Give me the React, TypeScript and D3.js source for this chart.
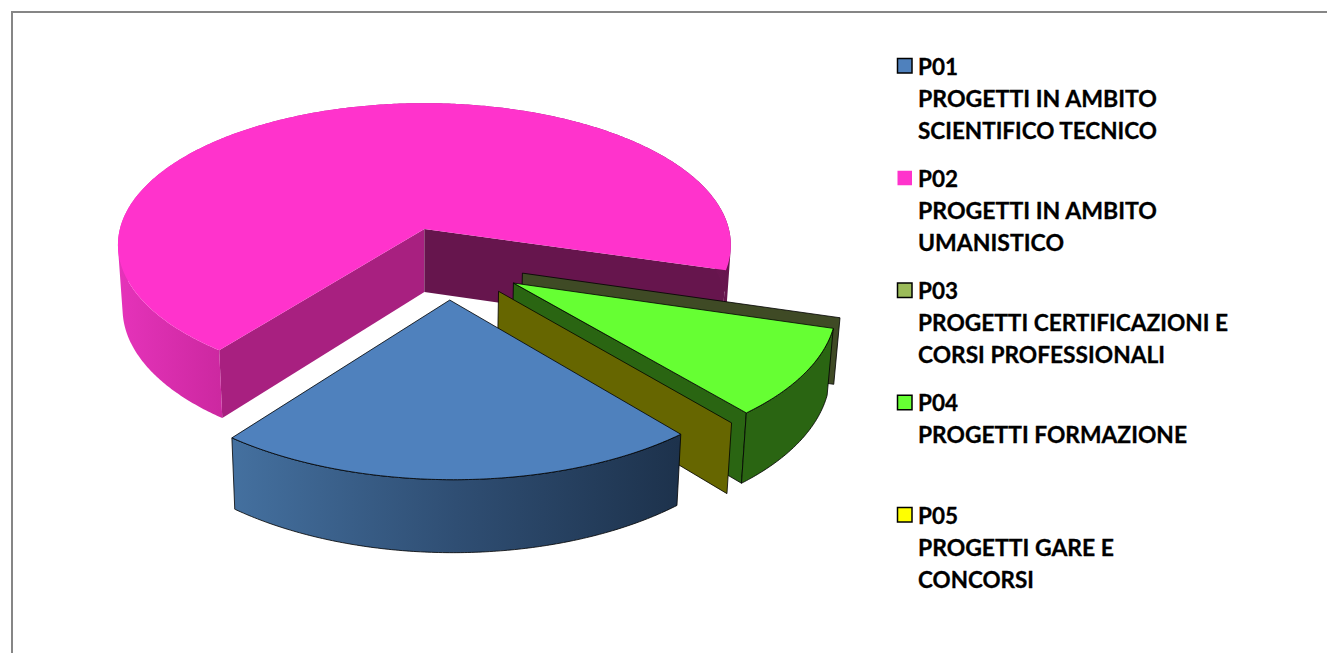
import React from "react";
import * as d3 from "d3";

// values are degrees of the pie, P03 and P05 are empty slices
const categories = ["P01", "P02", "P03", "P04", "P05"];
const values = [77.5, 248.8, 0, 33.8, 0];
const descriptions = [
  ["PROGETTI IN AMBITO", "SCIENTIFICO TECNICO"],
  ["PROGETTI IN AMBITO", "UMANISTICO"],
  ["PROGETTI CERTIFICAZIONI E", "CORSI PROFESSIONALI"],
  ["PROGETTI FORMAZIONE"],
  ["PROGETTI GARE E", "CONCORSI"],
];
const swatchColors = ["#4F81BD", "#FF33CC", "#9BBB59", "#66FF33", "#FFFF00"];
const topColors = ["#4F81BD", "#FF33CC", "none", "#66FF33", "none"];
const startFaceColors = [null, "#A82080", "#3F4A25", null, "#666600"];
const endFaceColors = [null, "#66154D", null, "#2A6512", null];
const sideColors = ["url(#blueSide)", "url(#pinkSide)", "none", "#2A6512", "none"];
const outlined = [true, false, true, true, true];
const drawOrder = [1, 2, 3, 4, 0];

const width = 1327;
const height = 653;

// perspective of the pie plane: x to the right, y towards the viewer, radius 1
const centerX = 424;
const centerY = 229;
const scaleX = 304.5;
const scaleY = 140;
const tilt = 0.1127;
const depth = 63;
const bottomShrink = 0.985;
const explodeCenter = [0.0763, 0.234];
const explode = 0.246;
const radii = [1.01, 1, 1.005, 1.005, 1.005];

const project = (px: number, py: number, z: number): [number, number] => {
  const w = 1 / (1 - tilt * py);
  return [
    centerX + scaleX * px * w * (z ? bottomShrink : 1),
    centerY + scaleY * py * w + depth * Math.pow(w, 0.8) * z,
  ];
};

const slices = d3
  .pie<number>()
  .sort(null)
  .startAngle((140.4 * Math.PI) / 180)
  .endAngle((140.4 * Math.PI) / 180 + 2 * Math.PI)(values);

const origin = (s: d3.PieArcDatum<number>): [number, number] => {
  const mid = (s.startAngle + s.endAngle) / 2;
  return [
    explodeCenter[0] + explode * Math.sin(mid),
    explodeCenter[1] - explode * Math.cos(mid),
  ];
};

const rimPoint = (s: d3.PieArcDatum<number>, angle: number, z: number) => {
  const [ox, oy] = origin(s);
  const r = radii[s.index];
  return project(ox + r * Math.sin(angle), oy - r * Math.cos(angle), z);
};

const rimAngles = (s: d3.PieArcDatum<number>) => [
  ...d3.range(s.startAngle, s.endAngle, 0.01),
  s.endAngle,
];

const line = d3.line();

const topPath = (s: d3.PieArcDatum<number>) => {
  const [ox, oy] = origin(s);
  return (
    line([project(ox, oy, 0), ...rimAngles(s).map((a) => rimPoint(s, a, 0))]) + "Z"
  );
};

// outline of the outer wall
const sidePath = (s: d3.PieArcDatum<number>) => {
  const angles = rimAngles(s);
  return (
    line([
      ...angles.map((a) => rimPoint(s, a, 0)),
      ...[...angles].reverse().map((a) => rimPoint(s, a, 1)),
    ]) + "Z"
  );
};

// the wall again as small quads, all wound the same way, so the silhouette
// between top and bottom rim is filled where the two curves cross
const sideFillPath = (s: d3.PieArcDatum<number>) => {
  const angles = rimAngles(s);
  return d3
    .pairs(angles)
    .map(([a, b]) => {
      const quad = [
        rimPoint(s, a, 0),
        rimPoint(s, b, 0),
        rimPoint(s, b, 1),
        rimPoint(s, a, 1),
      ];
      if (d3.polygonArea(quad) < 0) quad.reverse();
      return line(quad) + "Z";
    })
    .join("");
};

const facePath = (s: d3.PieArcDatum<number>, angle: number) => {
  const [ox, oy] = origin(s);
  return (
    line([
      project(ox, oy, 0),
      rimPoint(s, angle, 0),
      rimPoint(s, angle, 1),
      project(ox, oy, 1),
    ]) + "Z"
  );
};

const legendY = d3.scalePoint<string>().domain(categories).range([74.5, 523.5]);

// widths of the legend lines as measured, the installed font is not the original one
const labelWidths = [40, 40, 40, 40, 40];
const lineWidths = [
  [239, 239],
  [239, 146],
  [310, 247],
  [269],
  [196, 116],
];

export default function App() {
  return (
    <svg
      width={width}
      height={height}
      viewBox={`0 0 ${width} ${height}`}
      style={{ position: "absolute", left: 0, top: 0, display: "block" }}
    >
      <defs>
        <linearGradient id="pinkSide" gradientUnits="userSpaceOnUse" x1={118} x2={731} y1={0} y2={0}>
          <stop offset="0" stopColor="#E533BA" />
          <stop offset="0.17" stopColor="#CC28A0" />
          <stop offset="1" stopColor="#66154D" />
        </linearGradient>
        <linearGradient id="blueSide" gradientUnits="userSpaceOnUse" x1={234} x2={679} y1={0} y2={0}>
          <stop offset="0" stopColor="#44709F" />
          <stop offset="0.5" stopColor="#2F4E73" />
          <stop offset="1" stopColor="#1D324C" />
        </linearGradient>
      </defs>

      <path d={`M12,${height}V12H${width}`} fill="none" stroke="#868686" strokeWidth={2} />

      {drawOrder.map((i) => {
        const s = slices[i];
        const stroke = outlined[i] ? "#000" : "none";
        return (
          <g key={categories[i]} stroke={stroke} strokeWidth={0.8} strokeLinejoin="round">
            {startFaceColors[i] && (
              <path d={facePath(s, s.startAngle)} fill={startFaceColors[i]!} />
            )}
            {endFaceColors[i] && (
              <path d={facePath(s, s.endAngle)} fill={endFaceColors[i]!} />
            )}
            {s.endAngle > s.startAngle && (
              <>
                <path d={sideFillPath(s)} fill={sideColors[i]} stroke="none" />
                <path d={sidePath(s)} fill="none" />
                <path d={topPath(s)} fill={topColors[i]} />
              </>
            )}
          </g>
        );
      })}

      <g
        fontFamily="Lato, sans-serif"
        fontWeight={700}
        fontSize={23}
        fill="#000"
        stroke="#000"
        strokeWidth={0.3}
      >
        {categories.map((c, i) => {
          const y = legendY(c)!;
          return (
            <g key={c}>
              <rect
                x={897.5}
                y={y - 16}
                width={14.5}
                height={14.5}
                fill={swatchColors[i]}
                stroke={outlined[i] ? "#000" : "none"}
                strokeWidth={1.5}
              />
              <text x={918} y={y} textLength={labelWidths[i]} lengthAdjust="spacingAndGlyphs">
                {c}
              </text>
              {descriptions[i].map((t, j) => (
                <text
                  key={t}
                  x={918}
                  y={y + 32 * (j + 1)}
                  textLength={lineWidths[i][j]}
                  lengthAdjust="spacingAndGlyphs"
                >
                  {t}
                </text>
              ))}
            </g>
          );
        })}
      </g>
    </svg>
  );
}
